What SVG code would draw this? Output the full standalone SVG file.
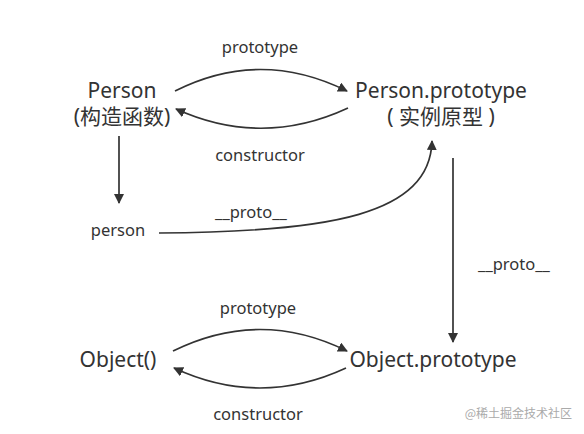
<svg xmlns="http://www.w3.org/2000/svg" width="584" height="434" viewBox="0 0 584 434">
<style>
.t{font-family:"Noto Sans","Noto Sans CJK SC",sans-serif;fill:#333}
.big{font-size:21px}
.lbl{font-size:16.5px}
.c{stroke:#333;stroke-width:1.7;fill:none}
.wm{font-family:"Noto Sans CJK SC",sans-serif;font-size:12px;fill:#aaa}
</style>
<defs>
<marker id="a" viewBox="0 0 10 10" refX="9" refY="5" markerWidth="10" markerHeight="10" markerUnits="userSpaceOnUse" orient="auto">
<path d="M0,0 L10,5 L0,10 Z" fill="#333"/>
</marker>
</defs>
<rect width="584" height="434" fill="#fff"/>
<g id="connectors">
<path class="c" d="M175,91 Q260,48 347,91" marker-end="url(#a)"/>
<path class="c" d="M348,108 Q262,148 176,109" marker-end="url(#a)"/>
<path class="c" d="M119,136 L119,203" marker-end="url(#a)"/>
<path class="c" d="M159,233 C330,232 430,215 432,141" marker-end="url(#a)"/>
<path class="c" d="M453,158 L453,342" marker-end="url(#a)"/>
<path class="c" d="M173,351 Q260,308 347,351" marker-end="url(#a)"/>
<path class="c" d="M346,368 Q260,408 174,368" marker-end="url(#a)"/>
</g>
<g id="labels">
<text class="t lbl" x="260" y="53" text-anchor="middle">prototype</text>
<text class="t lbl" x="260" y="161" text-anchor="middle">constructor</text>
<text class="t lbl" x="251" y="218" text-anchor="middle">__proto__</text>
<text class="t lbl" x="514" y="270" text-anchor="middle">__proto__</text>
<text class="t lbl" x="258" y="314" text-anchor="middle">prototype</text>
<text class="t lbl" x="258" y="420" text-anchor="middle">constructor</text>
</g>
<g id="person-ctor">
<text class="t big" x="122" y="98" text-anchor="middle">Person</text>
<text class="t big" x="122" y="124" text-anchor="middle">(构造函数)</text>
</g>
<g id="person-proto">
<text class="t big" x="441" y="98" text-anchor="middle">Person.prototype</text>
<text class="t big" x="441" y="124" text-anchor="middle">( 实例原型 )</text>
</g>
<g id="person">
<text class="t lbl" x="118" y="236" text-anchor="middle">person</text>
</g>
<g id="object">
<text class="t big" x="118" y="367" text-anchor="middle">Object()</text>
</g>
<g id="object-proto">
<text class="t big" x="433" y="367" text-anchor="middle">Object.prototype</text>
</g>
<text class="wm" x="572" y="418" text-anchor="end">@稀土掘金技术社区</text>
</svg>
